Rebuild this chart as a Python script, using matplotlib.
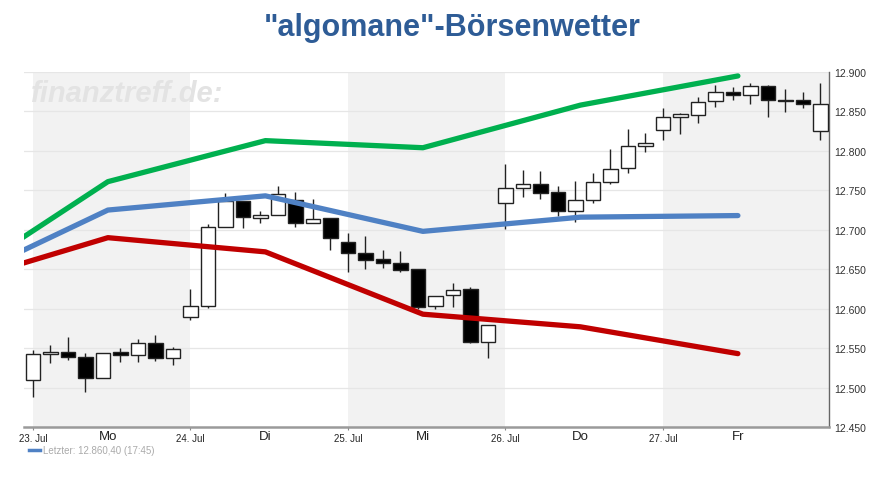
import matplotlib
matplotlib.use("Agg")
import matplotlib.pyplot as plt
from matplotlib.ticker import FixedLocator, FuncFormatter

plt.rcParams['font.family'] = ['Liberation Sans', 'DejaVu Sans']

# ---------------- data ----------------
title = '"algomane"-Börsenwetter'
watermark = 'finanztreff.de:'
legend_text = 'Letzter: 12.860,40 (17:45)'

date_labels = ['23. Jul', '24. Jul', '25. Jul', '26. Jul', '27. Jul']
day_labels = ['Mo', 'Di', 'Mi', 'Do', 'Fr']

opens = [12.510, 12.542, 12.545, 12.539, 12.512, 12.545, 12.541, 12.557, 12.538,
         12.590, 12.603, 12.704, 12.736, 12.715, 12.719, 12.738, 12.708, 12.715,
         12.685, 12.671, 12.663, 12.658, 12.650, 12.603, 12.617, 12.625, 12.558,
         12.734, 12.753, 12.758, 12.748, 12.724, 12.738, 12.760, 12.778, 12.806,
         12.826, 12.843, 12.846, 12.863, 12.875, 12.871, 12.882, 12.865, 12.864, 12.825]
highs = [12.548, 12.554, 12.564, 12.544, 12.544, 12.550, 12.562, 12.567, 12.552,
         12.625, 12.707, 12.747, 12.737, 12.724, 12.756, 12.748, 12.739, 12.715,
         12.696, 12.692, 12.674, 12.673, 12.650, 12.616, 12.632, 12.627, 12.579,
         12.783, 12.776, 12.774, 12.756, 12.762, 12.772, 12.803, 12.828, 12.823,
         12.854, 12.848, 12.868, 12.884, 12.881, 12.886, 12.884, 12.878, 12.875, 12.886]
lows = [12.488, 12.531, 12.535, 12.494, 12.512, 12.533, 12.533, 12.534, 12.529,
        12.586, 12.601, 12.704, 12.702, 12.708, 12.719, 12.704, 12.708, 12.675,
        12.646, 12.650, 12.652, 12.647, 12.599, 12.599, 12.602, 12.556, 12.538,
        12.701, 12.742, 12.739, 12.718, 12.710, 12.734, 12.758, 12.772, 12.799,
        12.814, 12.821, 12.835, 12.856, 12.865, 12.859, 12.843, 12.849, 12.854, 12.814]
closes = [12.543, 12.545, 12.539, 12.512, 12.544, 12.541, 12.557, 12.538, 12.549,
          12.603, 12.704, 12.736, 12.716, 12.719, 12.745, 12.708, 12.714, 12.690,
          12.670, 12.662, 12.658, 12.649, 12.602, 12.616, 12.624, 12.558, 12.579,
          12.753, 12.758, 12.747, 12.724, 12.738, 12.760, 12.777, 12.806, 12.810,
          12.843, 12.847, 12.862, 12.875, 12.871, 12.882, 12.864, 12.863, 12.859, 12.860]

# forecast lines: previous close, then Mo, Di, Mi, Do, Fr
green_vals = [12.630, 12.761, 12.813, 12.804, 12.858, 12.895]
blue_vals = [12.630, 12.725, 12.743, 12.698, 12.716, 12.718]
red_vals = [12.630, 12.690, 12.672, 12.593, 12.577, 12.543]

yticks = [12.45, 12.50, 12.55, 12.60, 12.65, 12.70, 12.75, 12.80, 12.85, 12.90]

# ---------------- layout ----------------
slots_per_day = 9
mid_offset = 4.28

fig = plt.figure(figsize=(8.91, 4.81), dpi=100)
ax = fig.add_axes([24/891, 53/481, (829-24)/891, (428-73)/481])

xmin, xmax = -0.514, 45.486
ax.set_xlim(xmin, xmax)
ax.set_ylim(12.45, 12.90)

# shaded days
for d in (0, 2, 4):
    start = d * slots_per_day
    end = xmax if d == 4 else start + slots_per_day
    ax.axvspan(start, end, color='#f2f2f2', zorder=0, lw=0)

for yv in yticks[1:]:
    ax.axhline(yv, color='#e6e6e6', lw=0.9, zorder=1)

# candles
n = len(opens)
xs = list(range(n))
for i in xs:
    ax.plot([i, i], [lows[i], highs[i]], color='#222222', lw=1.0, zorder=2,
            solid_capstyle='butt')
for i in xs:
    o, c = opens[i], closes[i]
    up = c >= o
    hgt = max(abs(c - o), 0.0006)
    ax.bar(i, hgt, bottom=min(o, c), width=0.84,
           color='white' if up else 'black', edgecolor='#222222', lw=1.0, zorder=3)

# forecast lines
line_x = [(-1 + k) * slots_per_day + mid_offset for k in range(len(green_vals))]
kw = dict(lw=3.8, zorder=4, solid_capstyle='round', solid_joinstyle='round')
ax.plot(line_x, red_vals, color='#c00000', **kw)
ax.plot(line_x, blue_vals, color='#4f81c4', **kw)
ax.plot(line_x, green_vals, color='#00b04f', **kw)

# spines
for s in ('top', 'left'):
    ax.spines[s].set_visible(False)
ax.spines['bottom'].set_color('#9a9a9a')
ax.spines['bottom'].set_linewidth(1.8)
ax.spines['right'].set_color('#666666')
ax.spines['right'].set_linewidth(1.0)
ax.set_facecolor('white')

# y axis on right
ax.yaxis.tick_right()
ax.set_yticks(yticks)
ax.yaxis.set_major_formatter(FuncFormatter(lambda v, p: f"{v:.3f}"))
ax.tick_params(axis='y', length=0, pad=4, labelsize=7.5, labelcolor='#333333')

# x axis
date_pos = [k * slots_per_day for k in range(len(date_labels))]
day_pos = [k * slots_per_day + mid_offset for k in range(len(day_labels))]
ax.xaxis.set_major_locator(FixedLocator(date_pos))
ax.set_xticklabels(date_labels)
ax.xaxis.set_minor_locator(FixedLocator(day_pos))
ax.set_xticklabels(day_labels, minor=True)
ax.tick_params(axis='x', which='major', length=2, width=0.8, color='#888888', pad=2,
               labelsize=7, labelcolor='#222222')
ax.tick_params(axis='x', which='minor', length=0, pad=2, labelsize=9.5, labelcolor='#222222')

# watermark
fig.text(31/891, 1 - 102/481, watermark, fontsize=21, fontweight='bold', fontstyle='italic',
         color='#e3e3e3', ha='left', va='baseline', zorder=0)

# title
fig.text(452/891, 1 - 28/481, title, fontsize=22, fontweight='bold', color='#2e5c96',
         ha='center', va='center')

# legend
fig.add_artist(plt.Line2D([29/891, 40/891], [1 - 451/481, 1 - 451/481],
                          color='#4f81c4', lw=2.5))
fig.text(43/891, 1 - 451/481, legend_text, fontsize=7, color='#aaaaaa', ha='left', va='center')

fig.savefig('out.png', dpi=100)
